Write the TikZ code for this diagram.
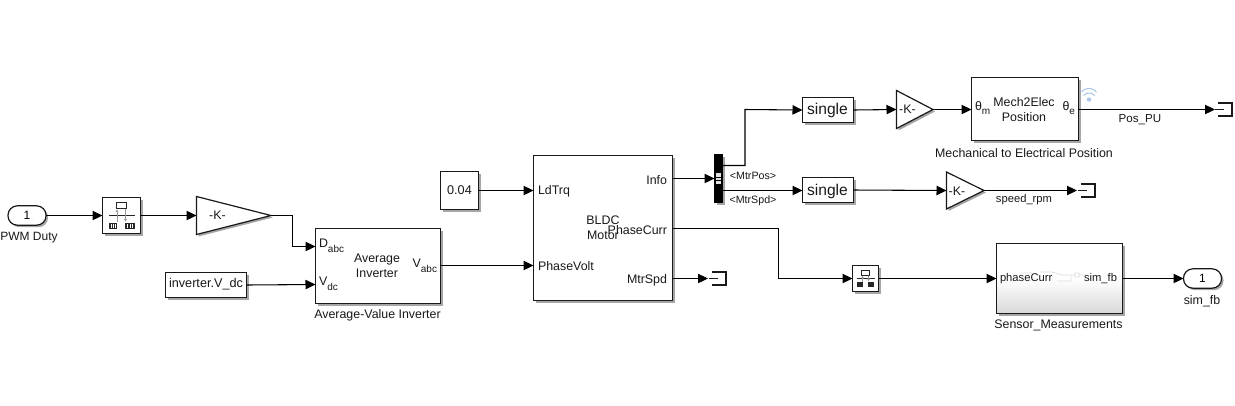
\documentclass[tikz,border=0pt]{standalone}
\usepackage{fontspec}
\setmainfont{Liberation Sans}
\usetikzlibrary{shadows,arrows.meta,calc}
\definecolor{wifi}{HTML}{A9C6E4}
\tikzset{
  x=0.75pt,y=-0.75pt,
  every node/.style={font=\fontsize{9}{10.5}\selectfont,inner sep=0pt,outer sep=0pt},
  blockshadow/.style={general shadow={shadow xshift=1.5pt,shadow yshift=-1.5pt,fill=black,opacity=.35}},
  blk/.style={draw=black!90,line width=.9pt,fill=white,blockshadow,rectangle,anchor=north west},
  inport/.style={draw=black!90,line width=.9pt,fill=white,blockshadow,rounded corners=7pt,minimum width=28.5pt,minimum height=14.5pt,font=\fontsize{9}{10.5}\selectfont},
  gainshape/.style={draw=black!90,line width=.9pt,fill=white,blockshadow,line join=miter},
  wire/.style={line width=.8pt,black,-{Triangle[length=7.5pt,width=7pt,sep=0pt]}},
  term/.style={line width=.8pt,black!90},
  lab/.style={font=\fontsize{9.3}{10.5}\selectfont,text=black!90},
  port/.style={font=\fontsize{8.4}{10}\selectfont,text=black!90},
  small/.style={font=\fontsize{8}{9}\selectfont,text=black!90},
  icon/.style={line width=.6pt,black!85},
  iconarrow/.style={line width=.5pt,black!40,-{Latex[length=2.2pt,width=2.2pt]}},
}
\newcommand{\rtmicon}[2]{%
  \begin{scope}[shift={(#1,#2)}]
    \draw[icon,fill=white] (-4.5,-13) rectangle (5,-7);
    \draw[icon] (-12,0) -- (14,0);
    \draw[iconarrow] (-4,7) -- (-4,-6);
    \draw[iconarrow] (4.5,-6) -- (4.5,7);
    \fill[black!85] (-12,7.5) rectangle (-4,13.5);
    \fill[black!85] (4,7.5) rectangle (14,13.5);
    \foreach \xx in {-10,-8,-6,6.5,9,11.5}{\draw[white,line width=.4pt] (\xx,9) -- (\xx,12.5);}
  \end{scope}}
\newcommand{\rtsicon}[2]{%
  \begin{scope}[shift={(#1,#2)}]
    \draw[icon,fill=white] (-4,-8.5) rectangle (4,-3.5);
    \draw[icon] (-9,0) -- (9,0);
    \draw[iconarrow] (-3,3) -- (-3,-3);
    \draw[iconarrow] (3,-3) -- (3,3);
    \fill[black!85] (-8.5,3.5) rectangle (-2.5,8.5);
    \fill[black!85] (2.5,3.5) rectangle (8.5,8.5);
  \end{scope}}
\newcommand{\termshape}[2]{%
  \draw[term] (#1,#2-6.5) -- (#1+14,#2-6.5) -- (#1+14,#2+6.5) -- (#1,#2+6.5);
  \draw[term] (#1-3,#2) -- (#1+6,#2);}
\begin{document}
\begin{tikzpicture}
\useasboundingbox (0,0) rectangle (1235,405);
\fill[white] (0,0) rectangle (1235,405);

% Blocks
\node[inport] (inA) at (27,215.5) {1};
\node[font=\fontsize{9}{10.5}\selectfont,text=black!90] at (29,238) {PWM Duty};
\node[blk,minimum width=28.5pt,minimum height=27pt] (rtA) at (102.5,197.5) {};
\rtmicon{121}{215}
\path[gainshape,draw] (196.5,196.5) -- (271,215.5) -- (196.5,234.5) -- cycle;
\coordinate (gA) at (196.5,215.5);
\coordinate (gAt) at (271,215.5);
\node[lab] at (217.5,215.5) {-K-};

\node[blk,minimum width=93.75pt,minimum height=56.25pt] (inv) at (315.5,228.5) {};
\node[lab,align=center] at (377,266) {Average\\[1pt]Inverter};
\node[lab,anchor=west] at (319,246) {D\raisebox{-3.5pt}{\fontsize{7.5}{9}\selectfont abc}};
\node[lab,anchor=west] at (319,284) {V\raisebox{-3.5pt}{\fontsize{7.5}{9}\selectfont dc}};
\node[lab,anchor=east] at (437,266) {V\raisebox{-3.5pt}{\fontsize{7.5}{9}\selectfont abc}};
\node[lab] at (377.5,315) {Average-Value Inverter};
\coordinate (invD) at (315.5,246.5);
\coordinate (invV) at (315.5,284.5);
\coordinate (invO) at (440.5,265.5);

\node[blk,minimum width=60.75pt,minimum height=18.75pt] (vdc) at (165.5,272.5) {};
\node[font=\fontsize{9.5}{11}\selectfont,text=black!90] at (206,284.5) {inverter.V\_dc};
\node[blk,minimum width=28.5pt,minimum height=28.5pt] (cst) at (440.5,171.5) {};
\node[font=\fontsize{9.5}{11}\selectfont,text=black!90] at (459.5,190.5) {0.04};

\node[blk,minimum width=104.25pt,minimum height=108.75pt] (bldc) at (533.5,155.5) {};
\node[lab,anchor=west] at (538,191.5) {LdTrq};
\node[lab,anchor=west] at (538,266.5) {PhaseVolt};
\node[lab,anchor=east] at (667,180) {Info};
\node[lab,anchor=east] at (667,230) {PhaseCurr};
\node[lab,anchor=east] at (667,280) {MtrSpd};
\node[lab,align=center] at (603,227.5) {BLDC\\[1pt]Motor};
\coordinate (bL) at (533.5,190.5);
\coordinate (bP) at (533.5,265.5);
\coordinate (bI) at (672.5,178.5);
\coordinate (bC) at (672.5,228.5);
\coordinate (bS) at (672.5,278.5);

\node[draw=black,fill=black,minimum width=6pt,minimum height=36pt,anchor=north west,blockshadow] (bus) at (714.5,154.5) {};
\fill[black!12] (715.5,173) rectangle (720.5,176.5);
\fill[black!12] (715.5,177.5) rectangle (720.5,180);
\fill[black!12] (715.5,181) rectangle (720.5,183.5);
\node[small] at (753,176) {<MtrPos>};
\node[small] at (753,201) {<MtrSpd>};
\coordinate (busI) at (714.5,178.5);
\coordinate (busA) at (722.5,165.5);
\coordinate (busB) at (722.5,190.5);

\node[blk,minimum width=38.25pt,minimum height=18.75pt] (sA) at (802.5,97.5) {};
\node[font=\fontsize{11.7}{13}\selectfont,text=black!90] at (827.5,110) {single};
\node[blk,minimum width=38.25pt,minimum height=18.75pt] (sB) at (802.5,177.5) {};
\node[font=\fontsize{11.7}{13}\selectfont,text=black!90] at (827.5,191) {single};

\path[gainshape,draw] (896.5,90.5) -- (933,109.5) -- (896.5,128.5) -- cycle;
\node[lab] at (907.5,109.5) {-K-};
\path[gainshape,draw] (946.5,172) -- (984,190.5) -- (946.5,209) -- cycle;
\node[lab] at (957,191) {-K-};

\node[blk,minimum width=80.25pt,minimum height=47.25pt] (mech) at (971.5,77.5) {};
\node[lab,align=center] at (1024,109.5) {Mech2Elec\\[1pt]Position};
\node[lab,anchor=west] at (975,108) {θ\raisebox{-3.5pt}{\fontsize{7.5}{9}\selectfont m}};
\node[lab,anchor=east] at (1075,108) {θ\raisebox{-3.5pt}{\fontsize{7.5}{9}\selectfont e}};
\node[lab] at (1024,153) {Mechanical to Electrical Position};
\node[font=\fontsize{8.7}{10}\selectfont,text=black!90] at (1140,119.5) {Pos\_PU};
\node[font=\fontsize{8.4}{10}\selectfont,text=black!90] at (1024,200) {speed\_rpm};
% signal-logging mark
\fill[wifi] (1089,99.5) circle (2.2);
\draw[wifi,line width=.8pt] (1083.5,95.5) arc[start angle=-140,end angle=-40,radius=7.2];
\draw[wifi,line width=.8pt] (1081.5,92) arc[start angle=-140,end angle=-40,radius=9.8];

\node[blk,minimum width=19.5pt,minimum height=19.5pt] (rtB) at (852.5,265.5) {};
\rtsicon{865.5}{278.5}

\node[blk,top color=white,bottom color=black!15,middle color=white,minimum width=94.5pt,minimum height=52.5pt] (sens) at (996.5,243.5) {};
\node[port,anchor=west] at (1000,279) {phaseCurr};
\node[port,anchor=east] at (1117,279) {sim\_fb};
\node[lab] at (1058.5,325) {Sensor\_Measurements};
\draw[black!14,line width=.5pt] (1020,273) -- (1032,273) (1040,272) -- (1052,272) -- (1062,275) -- (1075,275) (1057,281) -- (1071,281) -- (1071,276) (1075,273) rectangle (1079,277) (1079,275) -- (1085,275);

\node[inport] (outA) at (1202.5,278.5) {1};
\node[lab] at (1202,301) {sim\_fb};

% Connectors
\draw[wire] (inA.east) -- (rtA.west |- inA.east);
\draw[wire] (rtA.east |- inA.east) -- (gA);
\draw[wire] (gAt) -- (292.5,215.5) -- (292.5,246.5) -- (invD);
\draw[wire] (vdc.east) -- (invV);
\draw[wire] (invO) -- (bP);
\draw[wire] (cst.east) -- (bL);
\draw[wire] (bI) -- (busI);
\draw[wire] (busA) -- (745,165.5) -- (745,109.5) -- (sA.west);
\draw[wire] (busB) -- (sB.west |- busB);
\draw[wire] (sA.east) -- (896.5,109.5);
\draw[wire] (sB.east) -- (946.5,190.5);
\draw[wire] (933,109.5) -- (971.5,109.5);
\draw[wire] (bC) -- (778.5,228.5) -- (778.5,278.5) -- (rtB.west);
\draw[wire] (rtB.east) -- (996.5,278.5);
\draw[wire] (sens.east |- outA.west) -- (outA.west);
\draw[wire] (1078,109.5) -- (1215,109.5);
\termshape{1218}{109.5}
\draw[wire] (984,190.5) -- (1077,190.5);
\termshape{1081}{190.5}
\draw[wire] (bS) -- (708,278.5);
\termshape{712}{278.5}
\end{tikzpicture}
\end{document}
